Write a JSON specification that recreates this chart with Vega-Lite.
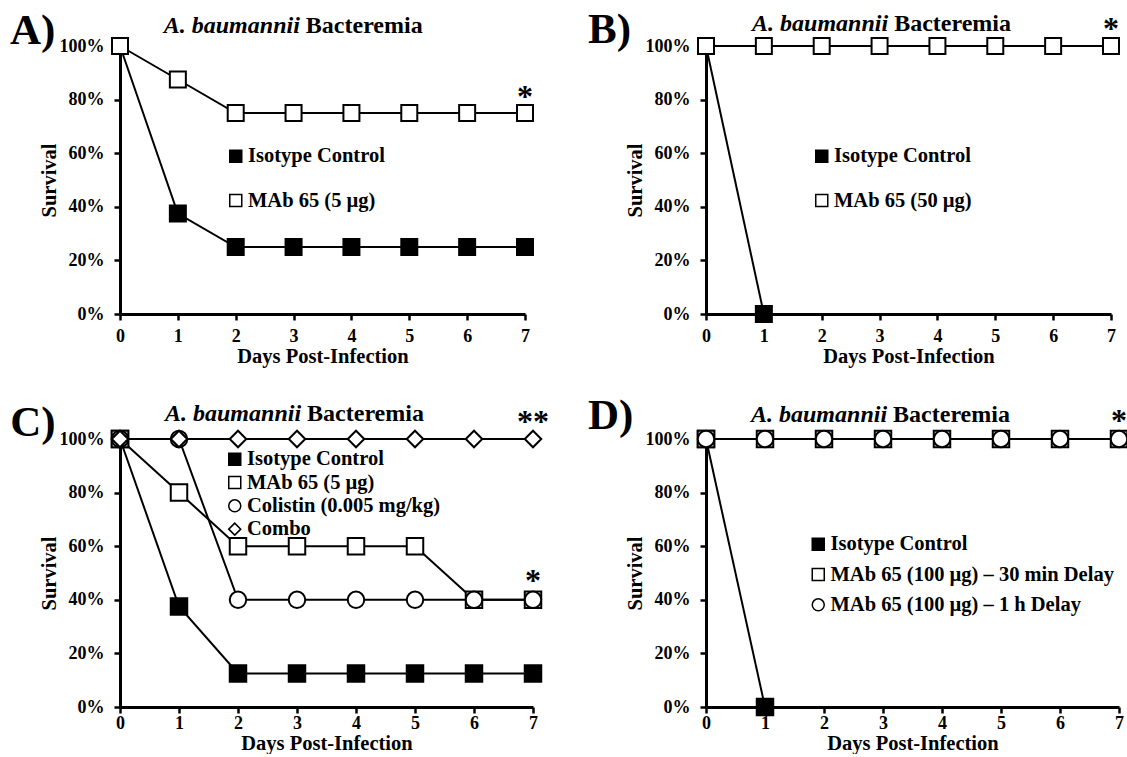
{
  "$schema": "https://vega.github.io/schema/vega-lite/v6.json",
  "autosize": {"type": "pad"},
  "padding": {"left": 10, "top": 9, "right": 0, "bottom": 0},
  "background": "white",
  "columns": 2,
  "align": "each",
  "bounds": "flush",
  "spacing": {"row": 125, "column": 173},
  "resolve": {
    "scale": {"x": "independent", "y": "independent", "fill": "independent", "shape": "independent", "size": "independent"},
    "legend": {"fill": "independent", "shape": "independent", "size": "independent"}
  },
  "config": {
    "view": {"stroke": null},
    "font": "Liberation Serif",
    "axis": {
      "domainColor": "black", "domainWidth": 3, "tickColor": "black", "tickWidth": 2.5, "tickSize": 6, "grid": false,
      "labelFont": "Liberation Serif", "labelFontSize": 18, "labelFontWeight": "bold", "labelColor": "black",
      "titleFont": "Liberation Serif", "titleFontSize": 20.5, "titleFontWeight": "bold", "titleColor": "black"
    },
    "legend": {
      "labelFont": "Liberation Serif", "labelFontSize": 20.5, "labelFontWeight": "bold", "labelColor": "black", "labelLimit": 400,
      "symbolSize": 144, "labelOffset": 2
    },
    "text": {"font": "Liberation Serif", "fontWeight": "bold", "color": "black"}
  },
  "concat": [
    {
      "width": 405, "height": 268,
      "data": {"values": [
        {"day": 0, "survival": 100, "series": "Isotype Control"},
        {"day": 1, "survival": 37.5, "series": "Isotype Control"},
        {"day": 2, "survival": 25, "series": "Isotype Control"},
        {"day": 3, "survival": 25, "series": "Isotype Control"},
        {"day": 4, "survival": 25, "series": "Isotype Control"},
        {"day": 5, "survival": 25, "series": "Isotype Control"},
        {"day": 6, "survival": 25, "series": "Isotype Control"},
        {"day": 7, "survival": 25, "series": "Isotype Control"},
        {"day": 0, "survival": 100, "series": "MAb 65 (5 µg)"},
        {"day": 1, "survival": 87.5, "series": "MAb 65 (5 µg)"},
        {"day": 2, "survival": 75, "series": "MAb 65 (5 µg)"},
        {"day": 3, "survival": 75, "series": "MAb 65 (5 µg)"},
        {"day": 4, "survival": 75, "series": "MAb 65 (5 µg)"},
        {"day": 5, "survival": 75, "series": "MAb 65 (5 µg)"},
        {"day": 6, "survival": 75, "series": "MAb 65 (5 µg)"},
        {"day": 7, "survival": 75, "series": "MAb 65 (5 µg)"}
      ]},
      "layer": [
        {
          "mark": {"type": "line", "color": "black", "strokeWidth": 2},
          "encoding": {
            "x": {"field": "day", "type": "quantitative", "scale": {"domain": [0, 7], "nice": false, "zero": false}, "title": "Days Post-Infection", "axis": {"values": [0,1,2,3,4,5,6,7], "format": "d", "labelFlush": false, "labelPadding": 7, "titlePadding": 1}},
            "y": {"field": "survival", "type": "quantitative", "scale": {"domain": [0, 100], "nice": false}, "title": "Survival", "axis": {"values": [0,20,40,60,80,100], "labelExpr": "datum.value + '%'", "labelPadding": 10, "titlePadding": 0}},
            "detail": {"field": "series"}
          }
        },
        {
          "mark": {"type": "point", "filled": true, "stroke": "black", "strokeWidth": 2, "opacity": 1, "size": 256},
          "encoding": {
            "x": {"field": "day", "type": "quantitative"},
            "y": {"field": "survival", "type": "quantitative"},
            "fill": {"field": "series", "type": "nominal", "scale": {"domain": ["Isotype Control", "MAb 65 (5 µg)"], "range": ["black", "white"]},
              "legend": {"title": null, "orient": "none", "legendX": 105.5, "legendY": 100, "rowPadding": 23.3,
                "encode": {"symbols": {"shape": {"value": "M-1.7,0H-1M-1,-1H1V1H-1ZM1,0H1.7"}}}}},
            "shape": {"field": "series", "type": "nominal", "scale": {"domain": ["Isotype Control", "MAb 65 (5 µg)"], "range": ["square", "square"]}}
          }
        },
        {
          "data": {"values": [{}]},
          "mark": {"type": "text", "align": "right", "dx": -3, "baseline": "alphabetic", "fontSize": 24, "fontStyle": "italic"},
          "encoding": {"x": {"datum": 3.16, "type": "quantitative"}, "y": {"datum": 104.9, "type": "quantitative"}, "text": {"value": "A. baumannii"}}
        },
        {
          "data": {"values": [{}]},
          "mark": {"type": "text", "align": "left", "dx": 3, "baseline": "alphabetic", "fontSize": 24},
          "encoding": {"x": {"datum": 3.16, "type": "quantitative"}, "y": {"datum": 104.9, "type": "quantitative"}, "text": {"value": "Bacteremia"}}
        },
        {
          "data": {"values": [{}]},
          "mark": {"type": "text", "align": "left", "baseline": "alphabetic", "fontSize": 43},
          "encoding": {"x": {"datum": -1.9, "type": "quantitative"}, "y": {"datum": 100.7, "type": "quantitative"}, "text": {"value": "A)"}}
        },
        {
          "data": {"values": [{}]},
          "mark": {"type": "text", "align": "center", "baseline": "alphabetic", "fontSize": 32},
          "encoding": {"x": {"datum": 7, "type": "quantitative"}, "y": {"datum": 77.2, "type": "quantitative"}, "text": {"value": "*"}}
        }
      ]
    },
    {
      "width": 405, "height": 268,
      "data": {"values": [
        {"day": 0, "survival": 100, "series": "Isotype Control"},
        {"day": 1, "survival": 0, "series": "Isotype Control"},
        {"day": 0, "survival": 100, "series": "MAb 65 (50 µg)"},
        {"day": 1, "survival": 100, "series": "MAb 65 (50 µg)"},
        {"day": 2, "survival": 100, "series": "MAb 65 (50 µg)"},
        {"day": 3, "survival": 100, "series": "MAb 65 (50 µg)"},
        {"day": 4, "survival": 100, "series": "MAb 65 (50 µg)"},
        {"day": 5, "survival": 100, "series": "MAb 65 (50 µg)"},
        {"day": 6, "survival": 100, "series": "MAb 65 (50 µg)"},
        {"day": 7, "survival": 100, "series": "MAb 65 (50 µg)"}
      ]},
      "layer": [
        {
          "mark": {"type": "line", "color": "black", "strokeWidth": 2},
          "encoding": {
            "x": {"field": "day", "type": "quantitative", "scale": {"domain": [0, 7], "nice": false, "zero": false}, "title": "Days Post-Infection", "axis": {"values": [0,1,2,3,4,5,6,7], "format": "d", "labelFlush": false, "labelPadding": 7, "titlePadding": 1}},
            "y": {"field": "survival", "type": "quantitative", "scale": {"domain": [0, 100], "nice": false}, "title": "Survival", "axis": {"values": [0,20,40,60,80,100], "labelExpr": "datum.value + '%'", "labelPadding": 10, "titlePadding": 0}},
            "detail": {"field": "series"}
          }
        },
        {
          "mark": {"type": "point", "filled": true, "stroke": "black", "strokeWidth": 2, "opacity": 1, "size": 256},
          "encoding": {
            "x": {"field": "day", "type": "quantitative"},
            "y": {"field": "survival", "type": "quantitative"},
            "fill": {"field": "series", "type": "nominal", "scale": {"domain": ["Isotype Control", "MAb 65 (50 µg)"], "range": ["black", "white"]},
              "legend": {"title": null, "orient": "none", "legendX": 105.5, "legendY": 100, "rowPadding": 23.3,
                "encode": {"symbols": {"shape": {"value": "M-1.7,0H-1M-1,-1H1V1H-1ZM1,0H1.7"}, "stroke": {"value": "black"}}}}},
            "shape": {"field": "series", "type": "nominal", "scale": {"domain": ["Isotype Control", "MAb 65 (50 µg)"], "range": ["square", "square"]}}
          }
        },
        {
          "data": {"values": [{}]},
          "mark": {"type": "text", "align": "right", "dx": -3, "baseline": "alphabetic", "fontSize": 24, "fontStyle": "italic"},
          "encoding": {"x": {"datum": 3.2, "type": "quantitative"}, "y": {"datum": 105.6, "type": "quantitative"}, "text": {"value": "A. baumannii"}}
        },
        {
          "data": {"values": [{}]},
          "mark": {"type": "text", "align": "left", "dx": 3, "baseline": "alphabetic", "fontSize": 24},
          "encoding": {"x": {"datum": 3.2, "type": "quantitative"}, "y": {"datum": 105.6, "type": "quantitative"}, "text": {"value": "Bacteremia"}}
        },
        {
          "data": {"values": [{}]},
          "mark": {"type": "text", "align": "left", "baseline": "alphabetic", "fontSize": 43},
          "encoding": {"x": {"datum": -2.04, "type": "quantitative"}, "y": {"datum": 101, "type": "quantitative"}, "text": {"value": "B)"}}
        },
        {
          "data": {"values": [{}]},
          "mark": {"type": "text", "align": "center", "baseline": "alphabetic", "fontSize": 32},
          "encoding": {"x": {"datum": 7, "type": "quantitative"}, "y": {"datum": 102.6, "type": "quantitative"}, "text": {"value": "*"}}
        }
      ]
    },
    {
      "width": 413, "height": 268,
      "data": {"values": [
        {"day": 0, "survival": 100, "series": "Isotype Control"},
        {"day": 1, "survival": 37.5, "series": "Isotype Control"},
        {"day": 2, "survival": 12.5, "series": "Isotype Control"},
        {"day": 3, "survival": 12.5, "series": "Isotype Control"},
        {"day": 4, "survival": 12.5, "series": "Isotype Control"},
        {"day": 5, "survival": 12.5, "series": "Isotype Control"},
        {"day": 6, "survival": 12.5, "series": "Isotype Control"},
        {"day": 7, "survival": 12.5, "series": "Isotype Control"},
        {"day": 0, "survival": 100, "series": "MAb 65 (5 µg)"},
        {"day": 1, "survival": 80, "series": "MAb 65 (5 µg)"},
        {"day": 2, "survival": 60, "series": "MAb 65 (5 µg)"},
        {"day": 3, "survival": 60, "series": "MAb 65 (5 µg)"},
        {"day": 4, "survival": 60, "series": "MAb 65 (5 µg)"},
        {"day": 5, "survival": 60, "series": "MAb 65 (5 µg)"},
        {"day": 6, "survival": 40, "series": "MAb 65 (5 µg)"},
        {"day": 7, "survival": 40, "series": "MAb 65 (5 µg)"},
        {"day": 0, "survival": 100, "series": "Colistin (0.005 mg/kg)"},
        {"day": 1, "survival": 100, "series": "Colistin (0.005 mg/kg)"},
        {"day": 2, "survival": 40, "series": "Colistin (0.005 mg/kg)"},
        {"day": 3, "survival": 40, "series": "Colistin (0.005 mg/kg)"},
        {"day": 4, "survival": 40, "series": "Colistin (0.005 mg/kg)"},
        {"day": 5, "survival": 40, "series": "Colistin (0.005 mg/kg)"},
        {"day": 6, "survival": 40, "series": "Colistin (0.005 mg/kg)"},
        {"day": 7, "survival": 40, "series": "Colistin (0.005 mg/kg)"},
        {"day": 0, "survival": 100, "series": "Combo"},
        {"day": 1, "survival": 100, "series": "Combo"},
        {"day": 2, "survival": 100, "series": "Combo"},
        {"day": 3, "survival": 100, "series": "Combo"},
        {"day": 4, "survival": 100, "series": "Combo"},
        {"day": 5, "survival": 100, "series": "Combo"},
        {"day": 6, "survival": 100, "series": "Combo"},
        {"day": 7, "survival": 100, "series": "Combo"}
      ]},
      "layer": [
        {
          "mark": {"type": "line", "color": "black", "strokeWidth": 2},
          "encoding": {
            "x": {"field": "day", "type": "quantitative", "scale": {"domain": [0, 7], "nice": false, "zero": false}, "title": "Days Post-Infection", "axis": {"values": [0,1,2,3,4,5,6,7], "format": "d", "labelFlush": false, "labelPadding": 1, "titlePadding": 1}},
            "y": {"field": "survival", "type": "quantitative", "scale": {"domain": [0, 100], "nice": false}, "title": "Survival", "axis": {"values": [0,20,40,60,80,100], "labelExpr": "datum.value + '%'", "labelPadding": 10, "titlePadding": 0}},
            "detail": {"field": "series"}
          }
        },
        {
          "mark": {"type": "point", "filled": true, "stroke": "black", "strokeWidth": 2, "opacity": 1, "size": 272},
          "encoding": {
            "x": {"field": "day", "type": "quantitative"},
            "y": {"field": "survival", "type": "quantitative"},
            "fill": {"field": "series", "type": "nominal", "scale": {"domain": ["Isotype Control", "MAb 65 (5 µg)", "Colistin (0.005 mg/kg)", "Combo"], "range": ["black", "white", "white", "white"]},
              "legend": {"title": null, "orient": "none", "legendX": 104.5, "legendY": 10, "rowPadding": 2.3}},
            "shape": {"field": "series", "type": "nominal", "scale": {"domain": ["Isotype Control", "MAb 65 (5 µg)", "Colistin (0.005 mg/kg)", "Combo"], "range": ["square", "square", "circle", "diamond"]}}
          }
        },
        {
          "data": {"values": [{}]},
          "mark": {"type": "text", "align": "right", "dx": -3, "baseline": "alphabetic", "fontSize": 24, "fontStyle": "italic"},
          "encoding": {"x": {"datum": 3.12, "type": "quantitative"}, "y": {"datum": 106.7, "type": "quantitative"}, "text": {"value": "A. baumannii"}}
        },
        {
          "data": {"values": [{}]},
          "mark": {"type": "text", "align": "left", "dx": 3, "baseline": "alphabetic", "fontSize": 24},
          "encoding": {"x": {"datum": 3.12, "type": "quantitative"}, "y": {"datum": 106.7, "type": "quantitative"}, "text": {"value": "Bacteremia"}}
        },
        {
          "data": {"values": [{}]},
          "mark": {"type": "text", "align": "left", "baseline": "alphabetic", "fontSize": 43},
          "encoding": {"x": {"datum": -1.86, "type": "quantitative"}, "y": {"datum": 101, "type": "quantitative"}, "text": {"value": "C)"}}
        },
        {
          "data": {"values": [{}]},
          "mark": {"type": "text", "align": "center", "baseline": "alphabetic", "fontSize": 32},
          "encoding": {"x": {"datum": 7, "type": "quantitative"}, "y": {"datum": 102.6, "type": "quantitative"}, "text": {"value": "**"}}
        },
        {
          "data": {"values": [{}]},
          "mark": {"type": "text", "align": "center", "baseline": "alphabetic", "fontSize": 32},
          "encoding": {"x": {"datum": 7, "type": "quantitative"}, "y": {"datum": 43.2, "type": "quantitative"}, "text": {"value": "*"}}
        }
      ]
    },
    {
      "width": 413, "height": 268,
      "data": {"values": [
        {"day": 0, "survival": 100, "series": "Isotype Control"},
        {"day": 1, "survival": 0, "series": "Isotype Control"},
        {"day": 0, "survival": 100, "series": "MAb 65 (100 µg) – 30 min Delay"},
        {"day": 1, "survival": 100, "series": "MAb 65 (100 µg) – 30 min Delay"},
        {"day": 2, "survival": 100, "series": "MAb 65 (100 µg) – 30 min Delay"},
        {"day": 3, "survival": 100, "series": "MAb 65 (100 µg) – 30 min Delay"},
        {"day": 4, "survival": 100, "series": "MAb 65 (100 µg) – 30 min Delay"},
        {"day": 5, "survival": 100, "series": "MAb 65 (100 µg) – 30 min Delay"},
        {"day": 6, "survival": 100, "series": "MAb 65 (100 µg) – 30 min Delay"},
        {"day": 7, "survival": 100, "series": "MAb 65 (100 µg) – 30 min Delay"},
        {"day": 0, "survival": 100, "series": "MAb 65 (100 µg) – 1 h Delay"},
        {"day": 1, "survival": 100, "series": "MAb 65 (100 µg) – 1 h Delay"},
        {"day": 2, "survival": 100, "series": "MAb 65 (100 µg) – 1 h Delay"},
        {"day": 3, "survival": 100, "series": "MAb 65 (100 µg) – 1 h Delay"},
        {"day": 4, "survival": 100, "series": "MAb 65 (100 µg) – 1 h Delay"},
        {"day": 5, "survival": 100, "series": "MAb 65 (100 µg) – 1 h Delay"},
        {"day": 6, "survival": 100, "series": "MAb 65 (100 µg) – 1 h Delay"},
        {"day": 7, "survival": 100, "series": "MAb 65 (100 µg) – 1 h Delay"}
      ]},
      "layer": [
        {
          "mark": {"type": "line", "color": "black", "strokeWidth": 2},
          "encoding": {
            "x": {"field": "day", "type": "quantitative", "scale": {"domain": [0, 7], "nice": false, "zero": false}, "title": "Days Post-Infection", "axis": {"values": [0,1,2,3,4,5,6,7], "format": "d", "labelFlush": false, "labelPadding": 1, "titlePadding": 1}},
            "y": {"field": "survival", "type": "quantitative", "scale": {"domain": [0, 100], "nice": false}, "title": "Survival", "axis": {"values": [0,20,40,60,80,100], "labelExpr": "datum.value + '%'", "labelPadding": 10, "titlePadding": 0}},
            "detail": {"field": "series"}
          }
        },
        {
          "mark": {"type": "point", "filled": true, "stroke": "black", "strokeWidth": 2, "opacity": 1, "size": 272},
          "encoding": {
            "x": {"field": "day", "type": "quantitative"},
            "y": {"field": "survival", "type": "quantitative"},
            "fill": {"field": "series", "type": "nominal", "scale": {"domain": ["Isotype Control", "MAb 65 (100 µg) – 30 min Delay", "MAb 65 (100 µg) – 1 h Delay"], "range": ["black", "white", "white"]},
              "legend": {"title": null, "orient": "none", "legendX": 102, "legendY": 95, "rowPadding": 9.3}},
            "shape": {"field": "series", "type": "nominal", "scale": {"domain": ["Isotype Control", "MAb 65 (100 µg) – 30 min Delay", "MAb 65 (100 µg) – 1 h Delay"], "range": ["square", "square", "circle"]}}
          }
        },
        {
          "data": {"values": [{}]},
          "mark": {"type": "text", "align": "right", "dx": -3, "baseline": "alphabetic", "fontSize": 24, "fontStyle": "italic"},
          "encoding": {"x": {"datum": 3.12, "type": "quantitative"}, "y": {"datum": 106.5, "type": "quantitative"}, "text": {"value": "A. baumannii"}}
        },
        {
          "data": {"values": [{}]},
          "mark": {"type": "text", "align": "left", "dx": 3, "baseline": "alphabetic", "fontSize": 24},
          "encoding": {"x": {"datum": 3.12, "type": "quantitative"}, "y": {"datum": 106.5, "type": "quantitative"}, "text": {"value": "Bacteremia"}}
        },
        {
          "data": {"values": [{}]},
          "mark": {"type": "text", "align": "left", "baseline": "alphabetic", "fontSize": 43},
          "encoding": {"x": {"datum": -2.0, "type": "quantitative"}, "y": {"datum": 103.7, "type": "quantitative"}, "text": {"value": "D)"}}
        },
        {
          "data": {"values": [{}]},
          "mark": {"type": "text", "align": "center", "baseline": "alphabetic", "fontSize": 32},
          "encoding": {"x": {"datum": 7, "type": "quantitative"}, "y": {"datum": 103.0, "type": "quantitative"}, "text": {"value": "*"}}
        }
      ]
    }
  ]
}
